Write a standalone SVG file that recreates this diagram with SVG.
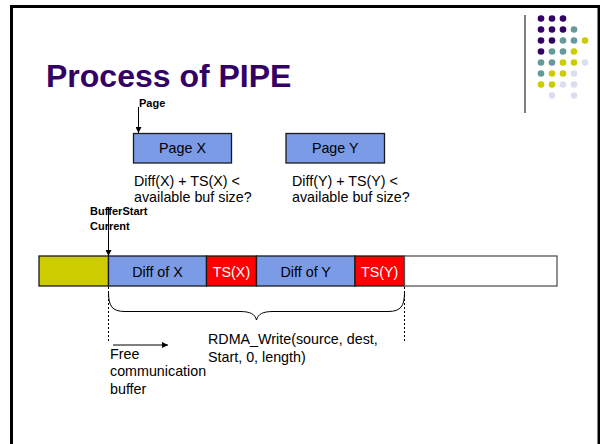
<svg xmlns="http://www.w3.org/2000/svg" width="600" height="444" viewBox="0 0 600 444">
  <style>
    .t { font-family: "Liberation Sans", Arial, sans-serif; font-size: 14.3px; fill: #000; }
    .tb { font-family: "Liberation Sans", Arial, sans-serif; font-size: 11px; font-weight: bold; fill: #000; }
    .title { font-family: "Liberation Sans", Arial, sans-serif; font-size: 32px; font-weight: bold; fill: #330066; }
    .blue { fill: #7B9BE6; stroke: #1a1a1a; stroke-width: 1.3; }
    .red { fill: #FF0000; stroke: #1a1a1a; stroke-width: 1.3; }
    .wt { fill: #fff; }
    .ln { stroke: #000; stroke-width: 1; fill: none; }
    .dash { stroke: #000; stroke-width: 1; stroke-dasharray: 2 2; fill: none; }
    .p { fill: #330066; } .g { fill: #669999; } .y { fill: #CCCC00; } .l { fill: #DDDDF0; }
  </style>
  <defs>
    <marker id="arrow" viewBox="0 0 10 10" refX="10" refY="5" markerWidth="6" markerHeight="6" orient="auto" markerUnits="userSpaceOnUse">
      <path d="M0,0 L10,5 L0,10 z" fill="#000"/>
    </marker>
  </defs>

  <!-- slide background and frame -->
  <rect x="0" y="0" width="600" height="444" fill="#fff"/>
  <rect x="11.5" y="6.5" width="587.5" height="450" fill="none" stroke="#000" stroke-width="3"/>

  <!-- decorative dot grid and rule -->
  <g id="decoration">
    <line x1="525" y1="15" x2="525" y2="113" stroke="#808080" stroke-width="2"/>
    <g>
      <circle class="p" cx="541" cy="18.5" r="3.3"/><circle class="p" cx="552" cy="18.5" r="3.3"/><circle class="p" cx="563" cy="18.5" r="3.3"/>
      <circle class="p" cx="541" cy="29.5" r="3.3"/><circle class="p" cx="552" cy="29.5" r="3.3"/><circle class="p" cx="563" cy="29.5" r="3.3"/><circle class="g" cx="574" cy="29.5" r="3.3"/>
      <circle class="p" cx="541" cy="40.5" r="3.3"/><circle class="p" cx="552" cy="40.5" r="3.3"/><circle class="g" cx="563" cy="40.5" r="3.3"/><circle class="g" cx="574" cy="40.5" r="3.3"/><circle class="y" cx="585" cy="40.5" r="3.3"/>
      <circle class="p" cx="541" cy="51.5" r="3.3"/><circle class="g" cx="552" cy="51.5" r="3.3"/><circle class="g" cx="563" cy="51.5" r="3.3"/><circle class="y" cx="574" cy="51.5" r="3.3"/>
      <circle class="g" cx="541" cy="62.5" r="3.3"/><circle class="g" cx="552" cy="62.5" r="3.3"/><circle class="y" cx="563" cy="62.5" r="3.3"/><circle class="y" cx="574" cy="62.5" r="3.3"/><circle class="l" cx="585" cy="62.5" r="3.3"/>
      <circle class="g" cx="541" cy="73.5" r="3.3"/><circle class="y" cx="552" cy="73.5" r="3.3"/><circle class="y" cx="563" cy="73.5" r="3.3"/><circle class="l" cx="574" cy="73.5" r="3.3"/>
      <circle class="y" cx="541" cy="84.5" r="3.3"/><circle class="y" cx="552" cy="84.5" r="3.3"/><circle class="l" cx="563" cy="84.5" r="3.3"/><circle class="l" cx="574" cy="84.5" r="3.3"/>
      <circle class="l" cx="552" cy="95.5" r="3.3"/><circle class="l" cx="574" cy="95.5" r="3.3"/>
    </g>
  </g>

  <text class="title" x="46" y="87">Process of PIPE</text>

  <!-- pages -->
  <g id="page-x">
    <rect class="blue" x="133.5" y="133.5" width="98" height="29.5"/>
    <text class="t" x="182.5" y="153" text-anchor="middle">Page X</text>
    <text class="t" x="134" y="186">Diff(X) + TS(X) &lt;</text>
    <text class="t" x="134" y="202">available buf size?</text>
  </g>
  <g id="page-y">
    <rect class="blue" x="286" y="133.5" width="98.5" height="29.5"/>
    <text class="t" x="335.2" y="153" text-anchor="middle">Page Y</text>
    <text class="t" x="292" y="186">Diff(Y) + TS(Y) &lt;</text>
    <text class="t" x="292" y="202">available buf size?</text>
  </g>

  <!-- pointer labels -->
  <g id="label-page">
    <text class="tb" x="139" y="107">Page</text>
  </g>
  <g id="label-bufferstart">
    <text class="tb" x="90" y="215">BufferStart</text>
    <text class="tb" x="90" y="230">Current</text>
  </g>

  <!-- communication buffer -->
  <g id="buffer">
    <rect x="39" y="256" width="69.5" height="30" fill="#CCCC00" stroke="#1a1a1a" stroke-width="1.3"/>
    <rect class="blue" x="108.5" y="256" width="98" height="30"/>
    <rect class="red" x="206.5" y="256" width="50" height="30"/>
    <rect class="blue" x="256.5" y="256" width="98.5" height="30"/>
    <rect class="red" x="355" y="256" width="49.5" height="30"/>
    <rect x="404.5" y="256" width="152.5" height="30" fill="#fff" stroke="#555" stroke-width="1.3"/>
    <text class="t" x="157.5" y="277" text-anchor="middle">Diff of X</text>
    <text class="t wt" x="231.5" y="277" text-anchor="middle">TS(X)</text>
    <text class="t" x="305.7" y="277" text-anchor="middle">Diff of Y</text>
    <text class="t wt" x="379.7" y="277" text-anchor="middle">TS(Y)</text>
  </g>

  <g id="label-free">
    <text class="t" x="110" y="358.5">Free</text>
    <text class="t" x="110" y="376">communication</text>
    <text class="t" x="110" y="393.5">buffer</text>
  </g>
  <g id="label-rdma">
    <text class="t" x="208" y="344">RDMA_Write(source, dest,</text>
    <text class="t" x="208" y="361.5">Start, 0, length)</text>
  </g>

  <!-- connectors -->
  <g id="connectors">
    <line class="ln" x1="138.5" y1="107" x2="138.5" y2="133" marker-end="url(#arrow)"/>
    <line class="ln" x1="108.5" y1="207" x2="108.5" y2="256" marker-end="url(#arrow)"/>
    <line class="dash" x1="108.5" y1="287" x2="108.5" y2="341"/>
    <line class="dash" x1="404.5" y1="287" x2="404.5" y2="341"/>
    <path class="ln" d="M108.5,292 C108.5,306 112,311.5 125,311.5 L240,311.5 C250,311.5 255,314 256.5,320 C258,314 263,311.5 273,311.5 L388,311.5 C401,311.5 404.5,306 404.5,292"/>
    <line class="ln" x1="113" y1="345" x2="168" y2="345" marker-end="url(#arrow)"/>
  </g>
</svg>
